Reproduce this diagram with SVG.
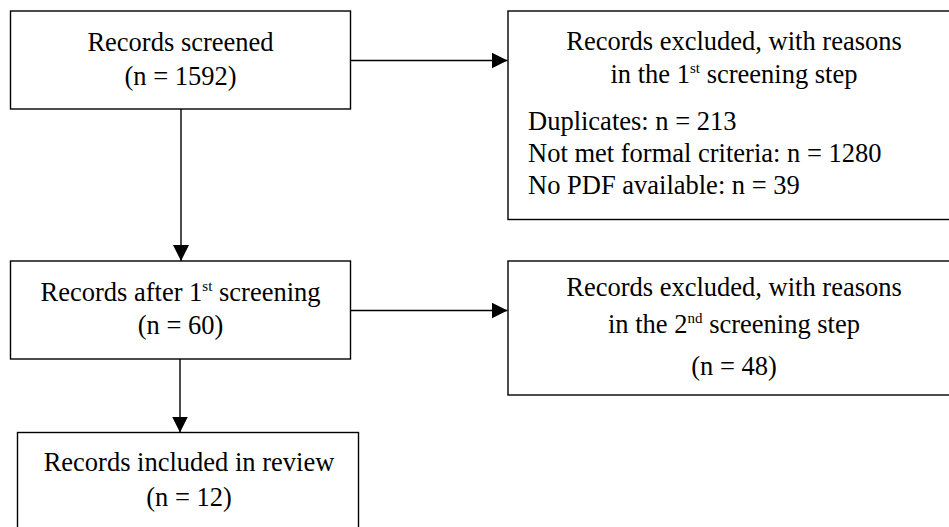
<svg xmlns="http://www.w3.org/2000/svg" width="949" height="527" viewBox="0 0 949 527">
<style>
.box{fill:#fff;stroke:#000;stroke-width:1.4}
.t{font-family:"Liberation Serif","Times New Roman",serif;font-size:26.5px;fill:#000}
.c{text-anchor:middle}
.sup{font-size:15px}
.ln{stroke:#000;stroke-width:1.4;fill:none}
</style>
<defs>
<marker id="ah" markerUnits="userSpaceOnUse" markerWidth="16" markerHeight="16" refX="16" refY="8" orient="auto">
<path d="M0,0 L16,8 L0,16 Z" fill="#000"/>
</marker>
</defs>
<rect width="949" height="527" fill="#fff"/>
<g id="connectors">
<line class="ln" x1="350" y1="60.5" x2="507.5" y2="60.5" marker-end="url(#ah)"/>
<line class="ln" x1="350" y1="310.5" x2="507.5" y2="310.5" marker-end="url(#ah)"/>
<line class="ln" x1="181" y1="109" x2="181" y2="261" marker-end="url(#ah)"/>
<line class="ln" x1="180" y1="359" x2="180" y2="432.5" marker-end="url(#ah)"/>
</g>
<g id="screened">
<rect class="box" x="10.5" y="11" width="340" height="98"/>
<text class="t c" x="180.5" y="51">Records screened</text>
<text class="t c" x="180.5" y="85">(n = 1592)</text>
</g>
<g id="excluded1">
<rect class="box" x="508" y="11" width="455" height="208.5"/>
<text class="t c" x="734" y="50">Records excluded, with reasons</text>
<text class="t c" x="734" y="83">in the 1<tspan class="sup" dy="-10">st</tspan><tspan dy="10"> screening step</tspan></text>
<text class="t" x="528" y="130">Duplicates: n = 213</text>
<text class="t" x="528" y="162">Not met formal criteria: n = 1280</text>
<text class="t" x="528" y="194">No PDF available: n = 39</text>
</g>
<g id="after1">
<rect class="box" x="10.5" y="261" width="340" height="98"/>
<text class="t c" x="180.5" y="301">Records after 1<tspan class="sup" dy="-10">st</tspan><tspan dy="10"> screening</tspan></text>
<text class="t c" x="180.5" y="334">(n = 60)</text>
</g>
<g id="excluded2">
<rect class="box" x="508" y="261" width="455" height="134"/>
<text class="t c" x="734" y="296">Records excluded, with reasons</text>
<text class="t c" x="734" y="333">in the 2<tspan class="sup" dy="-10">nd</tspan><tspan dy="10"> screening step</tspan></text>
<text class="t c" x="734" y="375">(n = 48)</text>
</g>
<g id="included">
<rect class="box" x="17.5" y="432.5" width="341" height="110"/>
<text class="t c" x="189" y="471">Records included in review</text>
<text class="t c" x="189" y="506">(n = 12)</text>
</g>
</svg>
